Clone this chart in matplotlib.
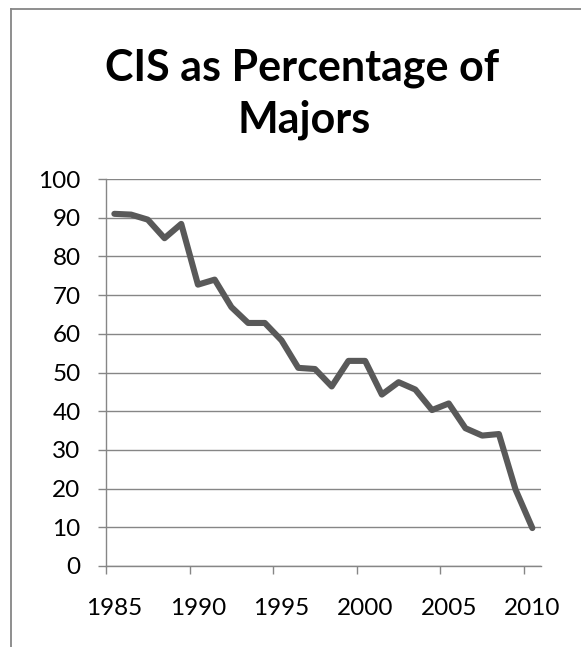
#!/usr/bin/env python3
"""
Excel-style line chart: CIS as percentage of majors, 1985-2010.
Saves out.png (581x647).
"""

import matplotlib.pyplot as plt
from matplotlib.lines import Line2D

# Data
years = list(range(1985, 2011))
pct = [91.0, 90.8, 89.5, 84.7, 88.4, 72.7, 74.0, 66.9, 62.8, 62.8,
       58.3, 51.2, 50.9, 46.4, 53.0, 53.0, 44.3, 47.5, 45.6, 40.3,
       42.0, 35.6, 33.7, 34.1, 19.7, 9.8]
x_labels = ['1985', '1990', '1995', '2000', '2005', '2010']
y_ticks = [0, 10, 20, 30, 40, 50, 60, 70, 80, 90, 100]

title_lines = ['CIS as Percentage of', 'Majors']

W, H = 581, 647
GRID = '#868686'
LINE = '#595959'

plt.rcParams['font.family'] = ['Lato', 'DejaVu Sans']

fig = plt.figure(figsize=(W / 100, H / 100), dpi=100)
fig.patch.set_facecolor('white')

# plot area (pixel positions measured on the reference)
left, right, top, bottom = 106, 540.7, 179, 566
ax = fig.add_axes([left / W, 1 - bottom / H, (right - left) / W, (bottom - top) / H])

ax.plot(years, pct, color=LINE, linewidth=4.4,
        solid_capstyle='round', solid_joinstyle='round', zorder=3)

# category axis: points at category centres, ticks on the boundaries
ax.set_xlim(years[0] - 0.5, years[-1] + 0.5)
ax.set_ylim(0, 100)
ax.set_xticks([int(s) - 0.5 for s in x_labels])
ax.set_xticklabels([])
ax.set_xticks([int(s) for s in x_labels], minor=True)
ax.set_xticklabels(x_labels, minor=True)
ax.tick_params(axis='x', which='major', direction='out', length=5.8,
               width=1, color=GRID)
ax.tick_params(axis='x', which='minor', length=0, pad=23, labelsize=17.5)

ax.set_yticks(y_ticks)
ax.tick_params(axis='y', direction='out', length=5.8, width=1, color=GRID,
               pad=12.5, labelsize=17.5)

ax.yaxis.grid(True, color=GRID, linewidth=1.0)
ax.set_axisbelow(True)
for side in ['top', 'right']:
    ax.spines[side].set_visible(False)
for side in ['left', 'bottom']:
    ax.spines[side].set_color(GRID)
    ax.spines[side].set_linewidth(1.0)

# title, two lines
fig.text(302 / W, 1 - 80.7 / H, title_lines[0], ha='center', va='baseline',
         fontsize=31, fontweight='bold')
fig.text(304 / W, 1 - 132.6 / H, title_lines[1], ha='center', va='baseline',
         fontsize=31, fontweight='bold')

# chart border (cut off at right and bottom)
bx, by = 11 / W, 1 - 8.5 / H
fig.add_artist(Line2D([bx, 1.0], [by, by], color=GRID, linewidth=1.3))
fig.add_artist(Line2D([bx, bx], [0.0, by], color=GRID, linewidth=1.3))

plt.savefig('out.png', dpi=100, facecolor='white')
plt.close()
